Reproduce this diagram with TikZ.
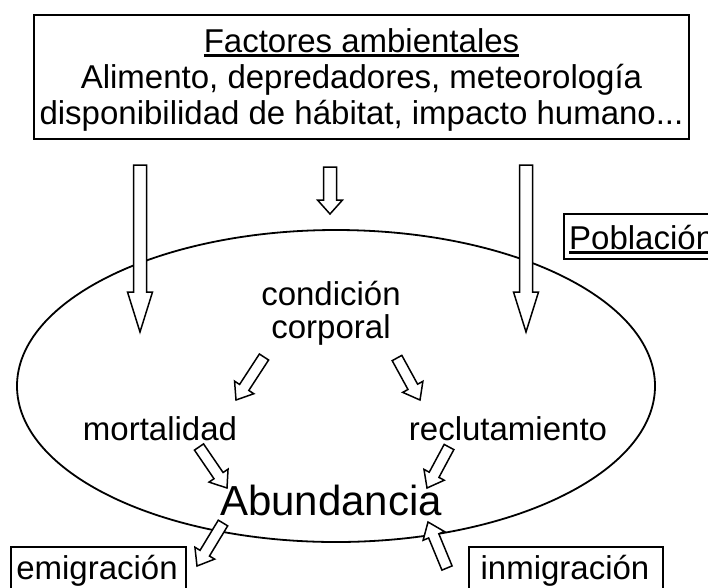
\documentclass[tikz,border=0pt]{standalone}
\usepackage{fontspec}
\setmainfont{Liberation Sans}
\usetikzlibrary{calc,shapes.geometric}
\newsavebox\ulbox
\newcommand{\ulined}[1]{\sbox\ulbox{#1}\rlap{\rule[-4.5pt]{\wd\ulbox}{2.4pt}}\usebox\ulbox}
% block arrow: from, to, shaft half width, head half width, head length
\newcommand{\blk}[5]{%
  \draw[blk] let \p1=($(#2)-(#1)$), \n1={atan2(\y1,\x1)}, \n2={veclen(\x1,\y1)-#5pt} in
    ($(#1)+(\n1-90:#3pt)$) -- ($(#1)+(\n1:\n2)+(\n1-90:#3pt)$)
    -- ($(#1)+(\n1:\n2)+(\n1-90:#4pt)$) -- (#2)
    -- ($(#1)+(\n1:\n2)+(\n1+90:#4pt)$) -- ($(#1)+(\n1:\n2)+(\n1+90:#3pt)$)
    -- ($(#1)+(\n1+90:#3pt)$) -- cycle;}
\begin{document}
\begin{tikzpicture}[x=1pt,y=-1pt,
  txt/.style={font=\fontsize{33}{40}\selectfont, inner sep=0pt, anchor=base},
  big/.style={font=\fontsize{42}{50}\selectfont, inner sep=0pt, anchor=base},
  frame/.style={draw, line width=1.8pt},
  blk/.style={draw, line width=1.5pt, fill=white, line join=miter}]
\useasboundingbox (0,0) rectangle (708,587);
\fill[white] (0,0) rectangle (708,587);

% top box
\node[frame, minimum width=655pt, minimum height=124pt, inner sep=0pt] (factbox) at (361.5,77) {};
\node[txt] (fact) at (361.5,52) {\ulined{Factores ambientales}};
\node[txt] (ali) at (361.5,88) {Alimento, depredadores, meteorología};
\node[txt] (disp) at (361.5,124) {disponibilidad de hábitat, impacto humano...};

% population ellipse
\node[draw, line width=1.8pt, ellipse, minimum width=638pt, minimum height=312pt, inner sep=0pt] (pop) at (336,386) {};

% Poblacion label
\node[frame, minimum width=150pt, minimum height=45pt, inner sep=0pt, anchor=north west] (poblbox) at (563,213) {};
\node[txt, anchor=base west] (pobl) at (569,249) {\ulined{Población}};

% inner labels
\node[txt] (cond) at (331,305) {condición};
\node[txt] (corp) at (331,338) {corporal};
\node[txt] (mort) at (160,440) {mortalidad};
\node[txt] (recl) at (508,440) {reclutamiento};
\node[big] (abund) at (331,515) {Abundancia};

% bottom boxes
\node[frame, minimum width=175pt, minimum height=50pt, inner sep=0pt, anchor=north west] (emibox) at (10,546) {};
\node[txt] (emi) at (97,579) {emigración};
\node[frame, minimum width=194pt, minimum height=50pt, inner sep=0pt, anchor=north west] (inmbox) at (468,546) {};
\node[txt] (inm) at (565,579) {inmigración};

% arrow end points
\coordinate (vL0) at (140,165); \coordinate (vL1) at (140,332);
\coordinate (vM0) at (330,167); \coordinate (vM1) at (330,214);
\coordinate (vR0) at (526,165); \coordinate (vR1) at (526,332);
\coordinate (c2m0) at (264,357); \coordinate (c2m1) at (236,400);
\coordinate (c2r0) at (397,358); \coordinate (c2r1) at (420,400);
\coordinate (m2a0) at (199,447); \coordinate (m2a1) at (227,488);
\coordinate (r2a0) at (449,447); \coordinate (r2a1) at (427,488);
\coordinate (a2e0) at (223,523); \coordinate (a2e1) at (197,566);
\coordinate (i2a0) at (447,568); \coordinate (i2a1) at (428,522);

\blk{vL0}{vL1}{6.5}{12.5}{40}
\blk{vM0}{vM1}{6.5}{12.5}{14}
\blk{vR0}{vR1}{6.5}{12.5}{40}
\blk{c2m0}{c2m1}{5.5}{11.5}{15}
\blk{c2r0}{c2r1}{5.5}{11.5}{15}
\blk{m2a0}{m2a1}{5.5}{11.5}{15}
\blk{r2a0}{r2a1}{5.5}{11.5}{15}
\blk{a2e0}{a2e1}{5.5}{11.5}{15}
\blk{i2a0}{i2a1}{5.5}{11.5}{15}
\end{tikzpicture}
\end{document}
